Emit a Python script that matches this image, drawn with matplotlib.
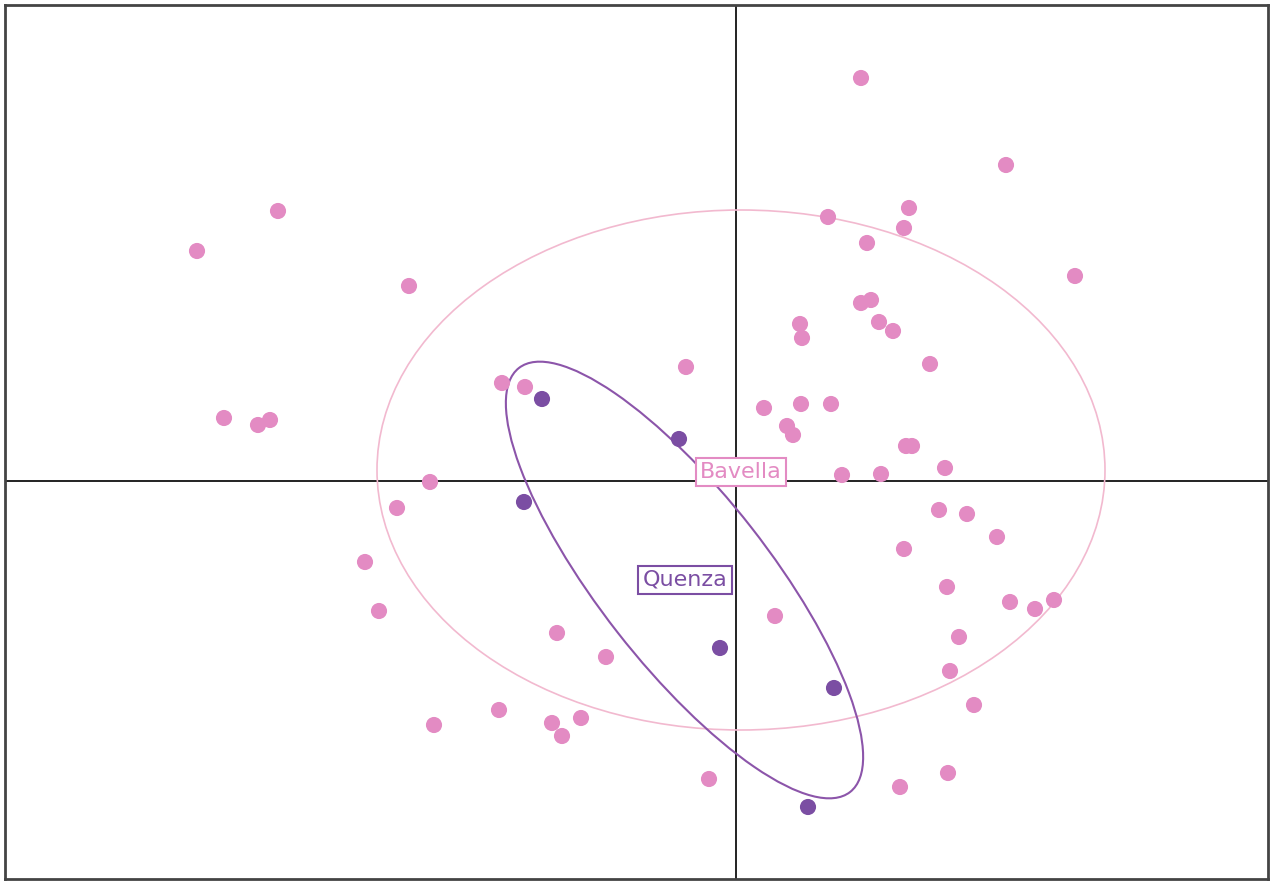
import matplotlib
matplotlib.use("Agg")
import matplotlib.pyplot as plt
from matplotlib.patches import Ellipse

# individual coordinates on the first two axes (arbitrary units)
bavella_x = [1.25, 2.70, -4.58, -5.39, 0.92, 1.73, 1.68, 1.31, 3.39, -3.27,
             1.25, 1.35, 1.43, 1.57, 0.64, 0.66, -0.50, 1.94, -2.34, -2.11,
             0.28, 0.65, 0.95, 0.51, 0.57, -5.12, -4.78, -4.66, 1.70, 1.76,
             2.09, 1.06, 1.45, -3.06, -3.39, 2.03, 2.31, 2.61, 1.68, -3.71,
             2.11, -3.57, 2.74, 2.99, 3.18, 0.39, -1.79, 2.23, -1.30, 2.14,
             2.38, -3.02, -2.37, -1.84, -1.55, -1.74, -0.27, 2.12, 1.64]
bavella_y = [4.03, 3.16, 2.70, 2.30, 2.64, 2.73, 2.53, 2.38, 2.05, 1.95,
             1.78, 1.81, 1.59, 1.50, 1.57, 1.43, 1.14, 1.17, 0.98, 0.94,
             0.73, 0.77, 0.77, 0.55, 0.46, 0.63, 0.56, 0.61, 0.35, 0.35,
             0.13, 0.06, 0.07, -0.01, -0.27, -0.29, -0.33, -0.56, -0.68, -0.81,
             -1.06, -1.30, -1.21, -1.28, -1.19, -1.35, -1.52, -1.56, -1.76, -1.90,
             -2.24, -2.44, -2.29, -2.42, -2.37, -2.55, -2.98, -2.92, -3.06]
quenza_x = [-1.94, -0.57, -2.12, -0.16, 0.98, 0.72]
quenza_y = [0.82, 0.42, -0.21, -1.67, -2.07, -3.26]

# concentration ellipses: centre, width, height, angle
bavella_ell = (0.05, 0.11, 7.28, 5.20, 0)
quenza_ell = (-0.515, -0.99, 5.38, 1.70, -52)

pink = "#e38bc3"
purple = "#7b4ea3"

fig = plt.figure(figsize=(12.73, 8.81), dpi=100)
ax = fig.add_axes([5 / 1273, 2 / 881, 1263 / 1273, 874 / 881])
ax.set_xlim(-7.31, 5.32)
ax.set_ylim(-3.98, 4.76)

ax.axhline(0, color="#222222", lw=1.4, zorder=1)
ax.axvline(0, color="#222222", lw=1.4, zorder=1)

ax.scatter(bavella_x, bavella_y, s=135, color=pink, edgecolors="none", zorder=3)
ax.scatter(quenza_x, quenza_y, s=135, color=purple, edgecolors="none", zorder=3)

cx, cy, w, h, a = bavella_ell
ax.add_patch(Ellipse((cx, cy), w, h, angle=a, fill=False, ec="#f2b9cf", lw=1.2, zorder=2))
cx, cy, w, h, a = quenza_ell
ax.add_patch(Ellipse((cx, cy), w, h, angle=a, fill=False, ec="#8c55aa", lw=1.5, zorder=2))

ax.text(0.05, 0.09, "Bavella", color=pink, fontsize=16, ha="center", va="center",
        bbox=dict(boxstyle="square,pad=0.2", fc="white", ec=pink, lw=1.5), zorder=4)
ax.text(-0.51, -0.99, "Quenza", color=purple, fontsize=16, ha="center", va="center",
        bbox=dict(boxstyle="square,pad=0.2", fc="white", ec=purple, lw=1.5), zorder=4)

ax.set_xticks([])
ax.set_yticks([])
for sp in ax.spines.values():
    sp.set_color("#444444")
    sp.set_linewidth(2)

fig.savefig("out.png", dpi=100)
